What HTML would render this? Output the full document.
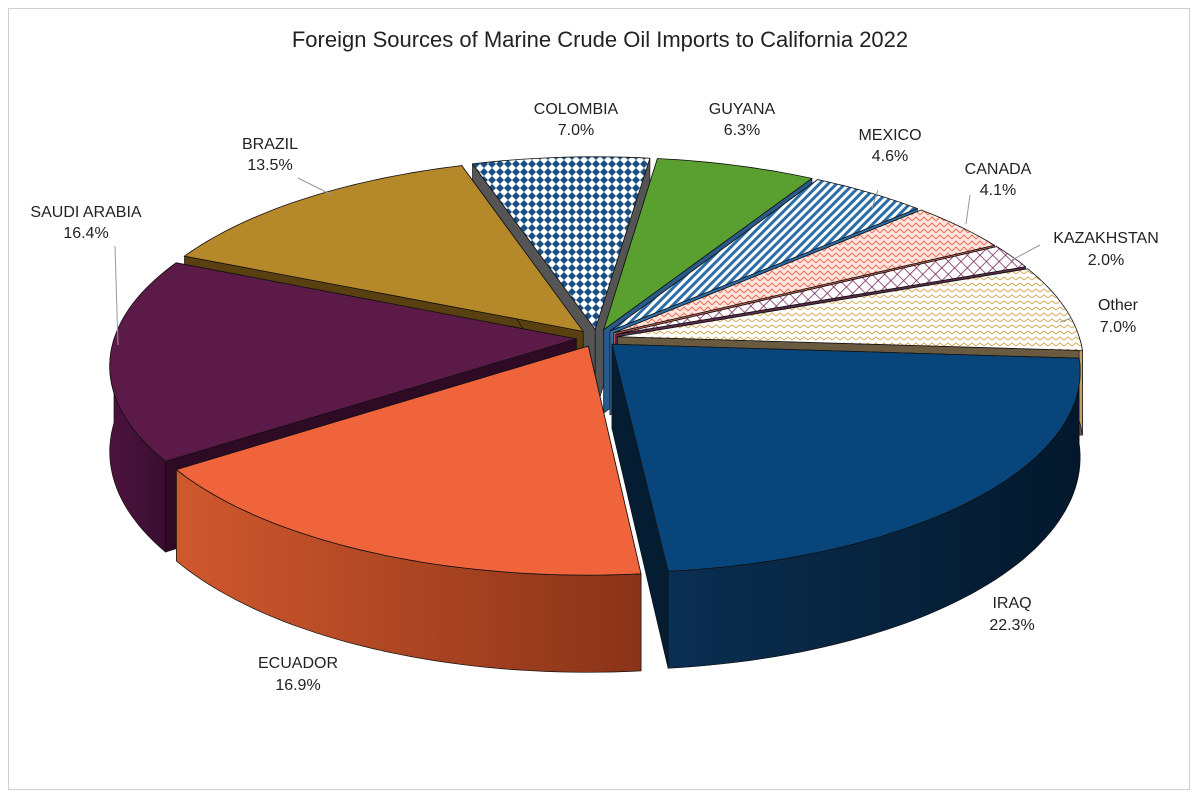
<!DOCTYPE html>
<html><head><meta charset="utf-8"><style>
body{margin:0;background:#fff;width:1200px;height:805px;overflow:hidden}
svg text{font-family:"Liberation Sans",sans-serif;fill:#222}
</style></head><body>
<svg id="s" width="1200" height="805" xmlns="http://www.w3.org/2000/svg">
<defs>
<pattern id="pCol" width="8" height="8" patternUnits="userSpaceOnUse"><rect width="8" height="8" fill="#fff"/><path d="M4 0L8 4L4 8L0 4Z" fill="#1a4f84"/></pattern>
<pattern id="pMex" width="6" height="6" patternUnits="userSpaceOnUse" patternTransform="rotate(45)"><rect width="6" height="6" fill="#fff"/><rect width="3" height="6" fill="#2d6ea8"/></pattern>
<pattern id="pCan" width="8" height="6" patternUnits="userSpaceOnUse"><rect width="8" height="6" fill="#fde6df"/><path d="M0 5L4 1L8 5" stroke="#e8705a" fill="none" stroke-width="1"/></pattern>
<pattern id="pKaz" width="9" height="9" patternUnits="userSpaceOnUse" patternTransform="rotate(45)"><rect width="9" height="9" fill="#fff"/><path d="M0 0H9M0 0V9" stroke="#7a2a5a" stroke-width="1.6"/></pattern>
<pattern id="pOth" width="8" height="6" patternUnits="userSpaceOnUse"><rect width="8" height="6" fill="#fff"/><path d="M0 4L4 1L8 4" stroke="#d8aa55" fill="none" stroke-width="1"/></pattern>
<linearGradient id="gIraq" x1="0" x2="1"><stop offset="0" stop-color="#0a2f52"/><stop offset="1" stop-color="#03182c"/></linearGradient>
<linearGradient id="gEcu" x1="0" x2="1"><stop offset="0" stop-color="#d0582e"/><stop offset="1" stop-color="#8a3318"/></linearGradient>
<linearGradient id="gSau" x1="0" x2="1"><stop offset="0" stop-color="#4c1440"/><stop offset="1" stop-color="#3a0d30"/></linearGradient>
</defs>
<rect x="8.5" y="8.5" width="1181" height="781" fill="#fff" stroke="#d0d0d0"/>
<text x="600" y="47" text-anchor="middle" font-size="22">Foreign Sources of Marine Crude Oil Imports to California 2022</text>
<g id="pie"></g>
<g stroke="#999" fill="none" stroke-width="1">
<path d="M298 178L332 195"/><path d="M115 246L118 345"/><path d="M878 190L872 208"/><path d="M970 195L966 224"/><path d="M1040 245L1012 260"/><path d="M1072 318L1060 322"/>
</g>
<g font-size="16" text-anchor="middle">
<text x="576" y="114">COLOMBIA</text><text x="576" y="135">7.0%</text>
<text x="742" y="114">GUYANA</text><text x="742" y="135">6.3%</text>
<text x="890" y="140">MEXICO</text><text x="890" y="161">4.6%</text>
<text x="998" y="174">CANADA</text><text x="998" y="195">4.1%</text>
<text x="1106" y="243">KAZAKHSTAN</text><text x="1106" y="265">2.0%</text>
<text x="1118" y="310">Other</text><text x="1118" y="332">7.0%</text>
<text x="270" y="149">BRAZIL</text><text x="270" y="170">13.5%</text>
<text x="86" y="217">SAUDI ARABIA</text><text x="86" y="238">16.4%</text>
<text x="1012" y="608">IRAQ</text><text x="1012" y="630">22.3%</text>
<text x="298" y="668">ECUADOR</text><text x="298" y="690">16.9%</text>
</g>
</svg>
<script>
var data=[["Iraq",22.3,"#08457a","url(#gIraq)","#041d33"],["Ecu",16.9,"#f0643c","url(#gEcu)","#8a3318"],["Sau",16.4,"#5c1a48","url(#gSau)","#2e0a25"],["Bra",13.5,"#b5892a","#7a5a15","#5a4010"],["Col",7.0,"url(#pCol)","#555","#555"],["Guy",6.3,"#5aa030","#3c7020","#2a5a8a"],["Mex",4.6,"url(#pMex)","#2d6ea8","#2d6ea8"],["Can",4.1,"url(#pCan)","#e8705a","#c86050"],["Kaz",2.0,"url(#pKaz)","#7a2a5a","#5a2a4a"],["Oth",7.0,"url(#pOth)","#c8a060","#6a5a40"]];
var cx=597,cy=338,rx=462,ry=197,D=84,b=0.13,ex=0.045,R=Math.PI/180;
function proj(X,Y,dz){var s=1/(1-b*Y);return [cx+rx*X*s,cy+ry*Y*s+(dz||0)*s];}
var a=4,sl=[];
data.forEach(function(d){var sp=d[1]*3.6/1.001;sl.push({d:d,a0:a,a1:a+sp});a+=sp;});
sl.forEach(function(s){s.m=(s.a0+s.a1)/2;});
sl.sort(function(p,q){return Math.sin(p.m*R)-Math.sin(q.m*R);});
var h="";
function f(v){return v.toFixed(1);}
function pts(arr){return arr.map(function(p){return f(p[0])+','+f(p[1]);}).join(' ');}
sl.forEach(function(s){
 var m=s.m*R,oX=ex*Math.cos(m),oY=ex*Math.sin(m),d=s.d;
 function P(t,dz){return proj(oX+Math.cos(t*R),oY+Math.sin(t*R),dz);}
 function C(dz){return proj(oX,oY,dz);}
 function arc(t0,t1,dz){var r=[],n=Math.max(2,Math.ceil(Math.abs(t1-t0)/1.5));for(var i=0;i<=n;i++)r.push(P(t0+(t1-t0)*i/n,dz));return r;}
 [s.a0,s.a1].forEach(function(t){
  h+='<polygon points="'+pts([C(0),P(t,0),P(t,D),C(D)])+'" fill="'+d[4]+'" stroke="#111" stroke-width="0.7"/>';});
 [[0,180],[360,540]].forEach(function(r){var s0=Math.max(s.a0,r[0]),e0=Math.min(s.a1,r[1]);
  if(e0>s0){h+='<polygon points="'+pts(arc(s0,e0,0).concat(arc(e0,s0,D)))+'" fill="'+d[3]+'" stroke="#111" stroke-width="0.7"/>';}});
 h+='<polygon points="'+pts([C(0)].concat(arc(s.a0,s.a1,0)))+'" fill="'+d[2]+'" stroke="#111" stroke-width="0.8"/>';
});
document.getElementById("pie").innerHTML=h;
</script>
</body></html>
